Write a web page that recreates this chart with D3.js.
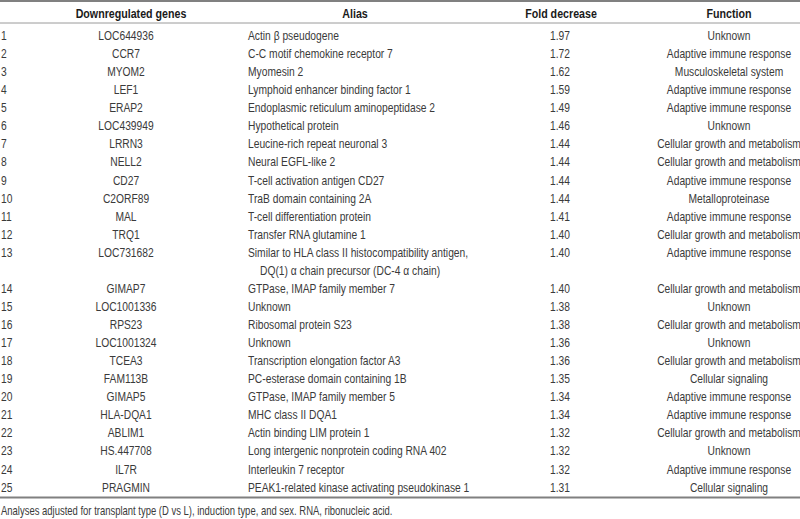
<!DOCTYPE html>
<html>
<head>
<meta charset="utf-8">
<script src="https://cdn.jsdelivr.net/npm/d3@7"></script>
<style>
html,body{margin:0;padding:0;background:#fff;}
svg{display:block;}
text{font-family:"Liberation Sans",Arial,sans-serif;}
</style>
</head>
<body>
<svg id="chart" width="800" height="519"></svg>
<script>
const headers = ["Downregulated genes", "Alias", "Fold decrease", "Function"];
const rowNumbers = [1,2,3,4,5,6,7,8,9,10,11,12,13,14,15,16,17,18,19,20,21,22,23,24,25];
const genes = ["LOC644936","CCR7","MYOM2","LEF1","ERAP2","LOC439949","LRRN3","NELL2","CD27","C2ORF89","MAL","TRQ1","LOC731682","GIMAP7","LOC1001336","RPS23","LOC1001324","TCEA3","FAM113B","GIMAP5","HLA-DQA1","ABLIM1","HS.447708","IL7R","PRAGMIN"];
const aliases = [
  ["Actin β pseudogene"],
  ["C-C motif chemokine receptor 7"],
  ["Myomesin 2"],
  ["Lymphoid enhancer binding factor 1"],
  ["Endoplasmic reticulum aminopeptidase 2"],
  ["Hypothetical protein"],
  ["Leucine-rich repeat neuronal 3"],
  ["Neural EGFL-like 2"],
  ["T-cell activation antigen CD27"],
  ["TraB domain containing 2A"],
  ["T-cell differentiation protein"],
  ["Transfer RNA glutamine 1"],
  ["Similar to HLA class II histocompatibility antigen,", "DQ(1) α chain precursor (DC-4 α chain)"],
  ["GTPase, IMAP family member 7"],
  ["Unknown"],
  ["Ribosomal protein S23"],
  ["Unknown"],
  ["Transcription elongation factor A3"],
  ["PC-esterase domain containing 1B"],
  ["GTPase, IMAP family member 5"],
  ["MHC class II DQA1"],
  ["Actin binding LIM protein 1"],
  ["Long intergenic nonprotein coding RNA 402"],
  ["Interleukin 7 receptor"],
  ["PEAK1-related kinase activating pseudokinase 1"]
];
const foldDecrease = [1.97,1.72,1.62,1.59,1.49,1.46,1.44,1.44,1.44,1.44,1.41,1.40,1.40,1.40,1.38,1.38,1.36,1.36,1.35,1.34,1.34,1.32,1.32,1.32,1.31];
const functions = ["Unknown","Adaptive immune response","Musculoskeletal system","Adaptive immune response","Adaptive immune response","Unknown","Cellular growth and metabolism","Cellular growth and metabolism","Adaptive immune response","Metalloproteinase","Adaptive immune response","Cellular growth and metabolism","Adaptive immune response","Cellular growth and metabolism","Unknown","Cellular growth and metabolism","Unknown","Cellular growth and metabolism","Cellular signaling","Adaptive immune response","Adaptive immune response","Cellular growth and metabolism","Unknown","Adaptive immune response","Cellular signaling"];
const footnote = "Analyses adjusted for transplant type (D vs L), induction type, and sex. RNA, ribonucleic acid.";

const svg = d3.select("#chart");
const fs = 13;
const sx = 0.79;   // horizontal condensing to mimic a narrow typeface

const rows = [];
let line = 0;
rowNumbers.forEach((n, i) => {
  rows.push({n, gene: genes[i], alias: aliases[i], fold: foldDecrease[i], func: functions[i], line});
  line += aliases[i].length;
});
const totalLines = line;

const y = d3.scaleLinear().domain([0, totalLines - 1]).range([35.5, 487]);

const colX = {num: 1, gene: 126, alias: 248, fold: 560, func: 729};
const headX = [131, 355, 561, 729];

function put(sel, x, yy, txt, anchor) {
  return sel.append("text")
    .attr("transform", `translate(${x},${yy}) scale(${sx},1)`)
    .attr("dy", "0.35em")
    .attr("text-anchor", anchor || "start")
    .text(txt);
}

const ruleColor = "#808080";
svg.append("line").attr("x1",0).attr("x2",800).attr("y1",1).attr("y2",1).attr("stroke",ruleColor).attr("stroke-width",2);
svg.append("line").attr("x1",0).attr("x2",800).attr("y1",23).attr("y2",23).attr("stroke","#9a9a9a").attr("stroke-width",1);
svg.append("line").attr("x1",0).attr("x2",800).attr("y1",y(totalLines-1)+10.5).attr("y2",y(totalLines-1)+10.5).attr("stroke",ruleColor).attr("stroke-width",2);

const hg = svg.append("g").attr("font-size", fs + 0.5).attr("font-weight", "bold").attr("fill", "#1a1a1a");
headers.forEach((h, i) => put(hg, headX[i], 13.5, h, "middle"));

const g = svg.append("g").attr("fill", "#3a3a3a").attr("font-size", fs);
rows.forEach(d => {
  const rg = g.append("g");
  put(rg, colX.num, y(d.line), d.n, "start");
  put(rg, colX.gene, y(d.line), d.gene, "middle");
  d.alias.forEach((t, j) => put(rg, colX.alias + (j > 0 ? 12 : 0), y(d.line + j), t, "start"));
  put(rg, colX.fold, y(d.line), d3.format(".2f")(d.fold), "middle");
  put(rg, colX.func, y(d.line), d.func, "middle");
});

put(svg.append("g").attr("fill", "#3a3a3a").attr("font-size", 12), 1, 511, footnote, "start");
</script>
</body>
</html>
